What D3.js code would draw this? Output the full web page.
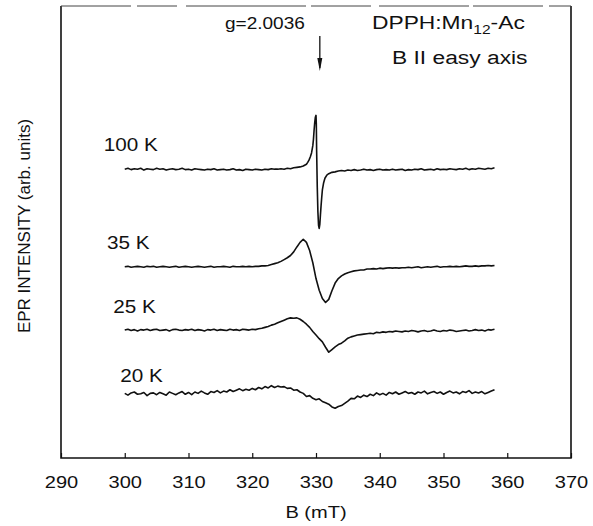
<!DOCTYPE html>
<html>
<head>
<meta charset="utf-8">
<script src="https://cdn.jsdelivr.net/npm/d3@7"></script>
<style>
  body { margin: 0; background: #fff; }
  text { font-family: "Liberation Sans", Arial, sans-serif; fill: #111; }
</style>
</head>
<body>
<div id="wrapper"></div>
<script>

// data (B in mT, intensity in arb. units)
const temperatures = ["100 K", "35 K", "25 K", "20 K"]
const baselines = [63.9, 42.3, 28.3, 14.2]
const xTicks = [290, 300, 310, 320, 330, 340, 350, 360, 370]
const gMarkerField = 330.6

const field100 = [
  300,300.5,301,301.5,302,302.5,303,303.5,304,304.5,305,305.5,306,306.5,307,307.5,308,308.5,309,309.5,
  310,310.5,311,311.5,312,312.5,313,313.5,314,314.5,315,315.5,316,316.5,317,317.5,318,318.5,319,319.5,
  320,320.5,321,321.5,322,322.5,323,323.5,324,324.5,325,325.5,326,326.5,327,327.5,
  328,328.5,328.7,328.9,329.1,329.3,329.5,329.6,329.7,329.8,329.9,330,330.05,330.1,330.2,330.3,330.4,
  330.5,330.6,330.7,330.8,330.9,331,331.2,331.4,331.7,
  332,332.5,333,333.5,334,334.5,335,335.5,336,336.5,337,337.5,338,338.5,339,339.5,340,340.5,341,341.5,
  342,342.5,343,343.5,344,344.5,345,345.5,346,346.5,347,347.5,348,348.5,349,349.5,350,350.5,351,351.5,
  352,352.5,353,353.5,354,354.5,355,355.5,356,356.5,357,357.5,358
]
const signal100 = [
  0.0,0.2,-0.1,0.1,0.0,0.2,-0.2,0.1,0.0,-0.1,0.2,0.0,0.1,-0.2,0.0,0.1,-0.1,0.0,0.2,-0.1,
  0.0,-0.2,0.1,0.0,-0.1,-0.2,0.0,-0.1,0.1,-0.2,-0.1,0.0,-0.2,-0.1,0.1,-0.2,-0.1,-0.3,0.0,-0.1,
  -0.2,0.0,-0.1,-0.2,0.0,-0.1,0.1,0.0,0.0,0.1,0.0,0.2,0.1,0.3,0.4,0.5,
  0.7,1.1,1.5,2.0,2.7,3.6,5.2,6.6,8.6,10.3,11.5,11.9,10.0,4.0,-4.0,-9.5,-12.4,
  -13.1,-12.2,-10.0,-8.0,-6.2,-4.6,-3.0,-2.0,-1.3,
  -1.0,-0.7,-0.6,-0.4,-0.3,-0.4,-0.2,-0.3,-0.1,-0.3,-0.2,0.0,-0.2,-0.1,-0.3,-0.1,0.0,-0.2,-0.1,-0.2,
  0.0,-0.2,-0.1,0.0,-0.3,-0.1,-0.2,0.0,-0.1,0.1,-0.2,-0.1,0.0,-0.2,0.1,-0.1,0.0,-0.1,0.1,0.0,
  -0.1,0.1,0.0,0.2,-0.1,0.1,0.0,0.2,0.1,0.0,0.2,0.1,0.3
]

// shared field values of the 35 K, 25 K and 20 K sweeps
const fieldGrid = [
  300,300.5,301,301.5,302,302.5,303,303.5,304,304.5,305,305.5,306,306.5,307,307.5,308,308.5,309,309.5,
  310,310.5,311,311.5,312,312.5,313,313.5,314,314.5,315,315.5,316,316.5,317,317.5,318,318.5,319,319.5,
  320,320.5,321,321.5,322,322.5,323,323.5,324,324.5,325,325.5,326,326.5,327,327.5,
  328,328.5,329,329.5,330,330.5,331,331.5,332,332.5,333,333.5,334,334.5,335,335.5,
  336,336.5,337,337.5,338,338.5,339,339.5,340,340.5,341,341.5,342,342.5,343,343.5,
  344,344.5,345,345.5,346,346.5,347,347.5,348,348.5,349,349.5,350,350.5,351,351.5,352,352.5,
  353,353.5,354,354.5,355,355.5,356,356.5,357,357.5,358
]
const signal35 = [
  0.0,0.1,-0.1,0.0,0.1,0.0,-0.1,0.1,0.0,0.1,-0.1,0.0,0.1,0.0,-0.1,0.0,0.1,-0.1,0.0,0.1,
  0.0,-0.1,0.0,0.1,0.0,-0.1,0.0,0.1,-0.1,0.0,0.0,0.1,0.0,-0.1,0.1,0.0,0.0,0.1,0.0,0.1,
  0.0,0.1,0.1,0.2,0.2,0.3,0.5,0.7,0.9,1.2,1.6,2.0,2.5,3.3,4.4,5.4,
  6.1,5.4,3.6,0.9,-2.6,-5.2,-7.0,-7.9,-7.2,-5.3,-3.6,-2.6,-2.0,-1.6,-1.3,-1.1,
  -0.9,-0.8,-0.7,-0.7,-0.5,-0.5,-0.4,-0.5,-0.3,-0.4,-0.3,-0.2,-0.3,-0.2,-0.3,-0.2,
  -0.2,-0.1,-0.2,-0.1,0.0,-0.2,-0.1,0.0,-0.1,0.0,0.1,-0.1,0.0,0.0,0.1,0.0,0.1,0.0,0.1,0.2,
  0.1,0.1,0.2,0.1,0.2,0.2,0.3,0.2,0.3
]
const signal25 = [
  0.0,0.2,-0.1,0.1,-0.2,0.1,0.0,0.2,-0.1,0.1,0.2,-0.1,0.0,0.1,-0.2,0.1,0.2,0.0,-0.1,0.1,
  0.0,0.2,-0.1,0.1,0.0,-0.2,0.1,0.0,0.2,-0.1,0.1,0.0,-0.1,0.2,0.0,0.1,-0.1,0.2,0.1,0.0,
  0.2,0.1,0.3,0.4,0.6,0.8,1.1,1.3,1.6,1.9,2.2,2.5,2.7,2.6,2.7,2.4,
  1.9,1.3,0.6,-0.3,-1.1,-1.9,-2.6,-3.8,-4.9,-4.3,-3.7,-3.2,-2.9,-2.4,-1.8,-1.5,
  -1.3,-1.1,-1.0,-0.9,-0.8,-0.7,-0.8,-0.5,-0.6,-0.4,-0.5,-0.3,-0.4,-0.2,-0.3,-0.4,
  -0.2,-0.3,-0.1,-0.2,-0.4,-0.2,-0.1,-0.3,-0.2,0.0,-0.2,-0.3,-0.1,-0.2,0.0,-0.1,-0.3,-0.2,-0.1,0.0,
  -0.2,-0.1,0.1,-0.1,0.0,-0.2,0.1,0.0,0.2
]
const signal20 = [
  0.1,-0.3,0.2,0.4,-0.1,0.0,0.3,-0.4,0.1,0.2,-0.2,0.3,0.0,-0.3,0.4,0.1,-0.2,0.2,0.5,-0.1,
  0.3,-0.2,0.4,0.1,0.6,0.2,-0.1,0.5,0.3,0.7,0.2,0.6,0.4,0.9,0.5,0.8,1.1,0.7,1.0,0.8,
  1.2,0.9,1.4,1.1,1.6,1.3,1.8,1.4,1.7,1.5,1.6,1.2,1.3,0.8,0.9,0.4,
  0.1,-0.6,-0.4,-1.0,-1.3,-1.1,-1.7,-2.0,-2.3,-2.9,-3.2,-2.8,-2.6,-2.1,-1.6,-1.0,
  -1.1,-0.5,-0.8,-0.3,-0.6,-0.1,-0.4,0.2,-0.2,0.1,-0.3,0.3,0.0,0.4,-0.1,0.2,
  0.5,0.1,0.3,-0.1,0.4,0.2,0.6,0.0,0.3,0.5,0.1,0.4,-0.1,0.3,0.6,0.2,0.4,0.0,0.5,0.3,
  0.7,0.1,0.4,0.2,0.5,0.0,0.3,0.6,0.9
]

function drawSpectra() {

// 1. series
  const fields = [field100, fieldGrid, fieldGrid, fieldGrid]
  const signals = [signal100, signal35, signal25, signal20]
  const series = temperatures.map((t, i) => ({
    label: t,
    offset: baselines[i],
    points: fields[i].map((b, j) => ({ b, v: signals[i][j] })),
  }))

// 2. dimensions
  let dimensions = {
    width: 593,
    height: 526,
    margin: { top: 6, right: 22, bottom: 68, left: 61 },
  }
  dimensions.boundedWidth = dimensions.width
    - dimensions.margin.left - dimensions.margin.right
  dimensions.boundedHeight = dimensions.height
    - dimensions.margin.top - dimensions.margin.bottom

// 3. canvas
  const wrapper = d3.select("#wrapper")
    .append("svg")
      .attr("width", dimensions.width)
      .attr("height", dimensions.height)

  const bounds = wrapper.append("g")
      .attr("transform", `translate(${dimensions.margin.left},${dimensions.margin.top})`)

// 4. scales
  const xScale = d3.scaleLinear()
    .domain([290, 370])
    .range([0, dimensions.boundedWidth])

  const yScale = d3.scaleLinear()
    .domain([0, 100])
    .range([dimensions.boundedHeight, 0])

// 5. traces
  const lineFor = offset => d3.line()
    .x(d => xScale(d.b))
    .y(d => yScale(offset + d.v))

  bounds.selectAll(".trace")
    .data(series)
    .join("path")
      .attr("class", "trace")
      .attr("d", s => lineFor(s.offset)(s.points))
      .attr("fill", "none")
      .attr("stroke", "#111")
      .attr("stroke-width", 1.6)
      .attr("stroke-linejoin", "round")

  // temperature labels sit just above the left end of each trace
  const labelField = [296.7, 297.2, 298.2, 299.3]
  const labelLift = [18, 18, 17, 12]
  bounds.selectAll(".tlabel")
    .data(series)
    .join("text")
      .attr("class", "tlabel")
      .attr("transform", (s, i) =>
        `translate(${xScale(labelField[i])},${yScale(s.offset) - labelLift[i]}) scale(1.15,1)`)
      .style("font-size", "18px")
      .text(s => s.label)

// 6. peripherals
  const xAxisGenerator = d3.axisBottom(xScale)
    .tickValues(xTicks)
    .tickSizeInner(-5)
    .tickSizeOuter(0)
    .tickPadding(0)
    .tickFormat(d3.format("d"))

  const xAxis = bounds.append("g")
    .attr("transform", `translate(0,${dimensions.boundedHeight})`)
    .call(xAxisGenerator)
  xAxis.select(".domain").remove()
  xAxis.selectAll("line").attr("stroke", "#111").attr("stroke-width", 1.2)
  xAxis.selectAll("text")
    .attr("y", null).attr("dy", null)
    .attr("transform", "translate(0,30) scale(1.18,1)")
    .style("font-size", "17px")
    .style("font-family", "'Liberation Sans', Arial, sans-serif")
    .attr("fill", "#111")

  // frame: left, bottom and right edges are solid, the scanned top edge is faint
  const w = dimensions.boundedWidth, h = dimensions.boundedHeight
  bounds.append("path")
    .attr("d", `M0,0 V${h} H${w} V0`)
    .attr("fill", "none")
    .attr("stroke", "#111")
    .attr("stroke-width", 1.6)
  bounds.append("line")
    .attr("x1", 0).attr("x2", w)
    .attr("stroke", "#444")
    .attr("stroke-width", 1)
    .attr("stroke-dasharray", "70 6 40 9 120 5 60 8 90 4")

  bounds.append("text")
    .attr("transform", `translate(${w / 2},${h + 60}) scale(1.18,1)`)
    .attr("text-anchor", "middle")
    .style("font-size", "17px")
    .text("B (mT)")

  wrapper.append("text")
    .attr("transform", `translate(30,226) rotate(-90)`)
    .attr("text-anchor", "middle")
    .style("font-size", "17px")
    .text("EPR INTENSITY (arb. units)")

  // g-value marker
  const gx = xScale(gMarkerField)
  bounds.append("line")
    .attr("x1", gx).attr("x2", gx)
    .attr("y1", 30).attr("y2", 62)
    .attr("stroke", "#111")
    .attr("stroke-width", 1.3)
  bounds.append("path")
    .attr("d", `M${gx - 2.5},${52} L${gx + 2.5},${52} L${gx},${65} Z`)
    .attr("fill", "#111")

  bounds.append("text")
    .attr("transform", `translate(${gx - 15},23) scale(1.12,1)`)
    .attr("text-anchor", "end")
    .style("font-size", "17px")
    .text("g=2.0036")

  const sample = bounds.append("text")
    .attr("transform", `translate(311,23) scale(1.2,1)`)
    .style("font-size", "19px")
  sample.append("tspan").text("DPPH:Mn")
  sample.append("tspan").attr("dy", 5).style("font-size", "13px").text("12")
  sample.append("tspan").attr("dy", -5).text("-Ac")

  bounds.append("text")
    .attr("transform", `translate(331,58) scale(1.2,1)`)
    .style("font-size", "19px")
    .text("B II easy axis")
}

drawSpectra()
</script>
</body>
</html>
